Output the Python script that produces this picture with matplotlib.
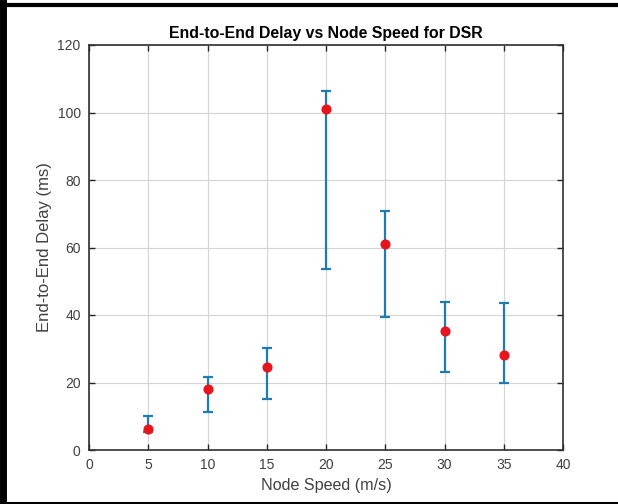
import matplotlib.pyplot as plt
from matplotlib.lines import Line2D

plt.rcParams['font.family'] = ['Liberation Sans', 'DejaVu Sans']

# data
speed = [5, 10, 15, 20, 25, 30, 35]
delay_mean = [6.1, 18.1, 24.5, 100.9, 60.9, 35.4, 28.1]
delay_low = [5.2, 11.3, 15.0, 53.6, 39.5, 23.2, 19.8]
delay_high = [10.2, 21.6, 30.1, 106.5, 70.7, 43.9, 43.5]

err_lo = [m - l for m, l in zip(delay_mean, delay_low)]
err_hi = [h - m for m, h in zip(delay_mean, delay_high)]

fig = plt.figure(figsize=(6.18, 5.04), dpi=100)
ax = fig.add_axes([89 / 618, 1 - 450 / 504, (563 - 89) / 618, (450 - 45) / 504])

ax.errorbar(speed, delay_mean, yerr=[err_lo, err_hi], fmt='none',
            ecolor='#1f7cb0', elinewidth=1.6, capsize=3.3, capthick=1.6, zorder=3)
ax.plot(speed, delay_mean, 'o', color='#e8141c', markersize=6.3, zorder=4)

ax.set_xlim(0, 40)
ax.set_ylim(0, 120)
ax.set_xticks(range(0, 41, 5))
ax.set_yticks(range(0, 121, 20))
ax.grid(True, color='#d4d4d4', linewidth=0.8)
ax.set_axisbelow(True)
ax.tick_params(direction='in', top=True, right=True, length=4, width=1,
               colors='#262626', labelsize=10, labelcolor='#404040', pad=6)
for s in ax.spines.values():
    s.set_color('#303030')
    s.set_linewidth(1.2)

ax.set_title('End-to-End Delay vs Node Speed for DSR', fontsize=11.4,
             fontweight='bold', pad=5)
ax.set_xlabel('Node Speed (m/s)', fontsize=11.6, color='#404040', labelpad=4)
ax.set_ylabel('End-to-End Delay (ms)', fontsize=12, color='#404040', labelpad=4)

# outer frame of the screenshot
fig.add_artist(Line2D([3 / 618, 3 / 618], [0, 1], color='black', linewidth=5,
                      transform=fig.transFigure))
fig.add_artist(Line2D([0, 1], [1 - 5 / 504, 1 - 5 / 504], color='black', linewidth=3,
                      transform=fig.transFigure))
fig.add_artist(Line2D([0, 1], [1 - 502.5 / 504, 1 - 502.5 / 504], color='black',
                      linewidth=1.5, transform=fig.transFigure))

fig.savefig('out.png', dpi=100)
